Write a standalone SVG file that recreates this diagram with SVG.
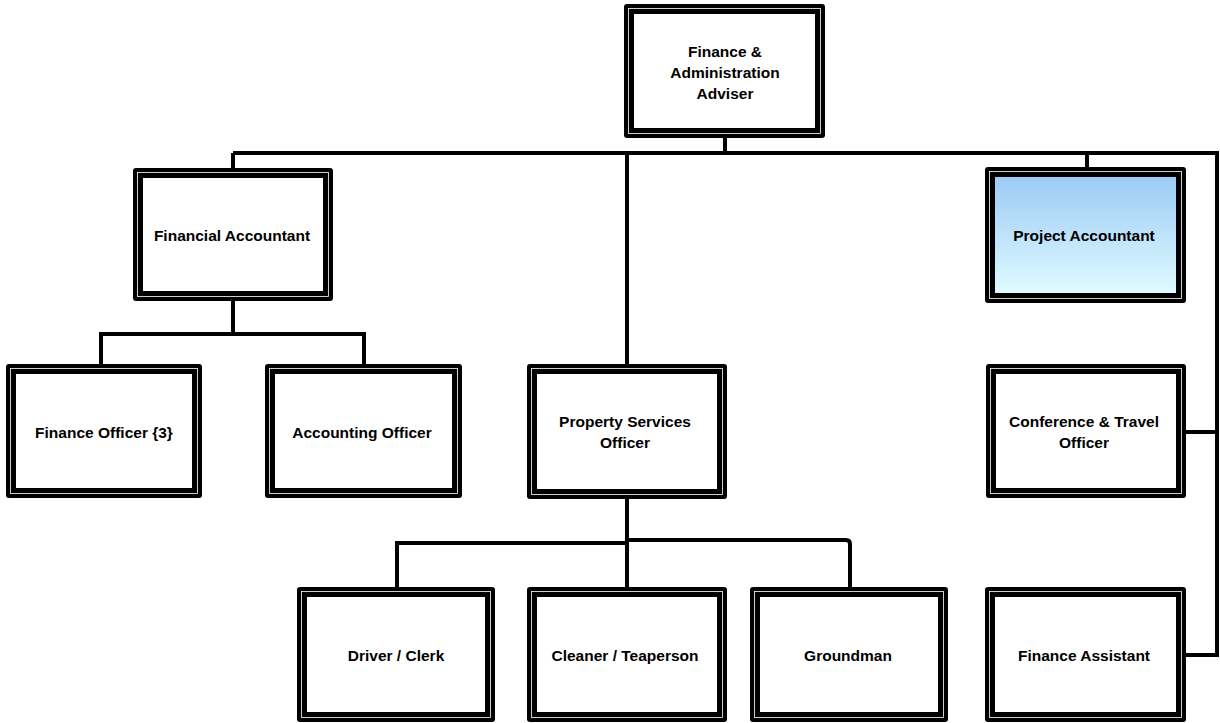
<svg xmlns="http://www.w3.org/2000/svg" width="1220" height="723" viewBox="0 0 1220 723">
<defs>
<linearGradient id="blue" x1="0" y1="0" x2="0" y2="1">
<stop offset="0" stop-color="#9ccbf6"/>
<stop offset="1" stop-color="#e0fbff"/>
</linearGradient>
</defs>
<style>
.outer{fill:#000}
.line{fill:none;stroke:#fff;stroke-width:0.8}
.inner{fill:#fff}
.conn{fill:none;stroke:#000;stroke-width:4}
text{font-family:"Liberation Sans",Arial,sans-serif;font-weight:bold;font-size:15.5px;fill:#000;text-anchor:middle;dominant-baseline:central}
</style>
<rect width="1220" height="723" fill="#fff"/>
<g id="connectors">
<path class="conn" d="M725 136V153"/>
<path class="conn" d="M233 153H1217V655H1184"/>
<path class="conn" d="M233 153V170"/>
<path class="conn" d="M1087 153V169"/>
<path class="conn" d="M627 153V366"/>
<path class="conn" d="M1217 432H1184"/>
<path class="conn" d="M233 298V334H101V366"/>
<path class="conn" d="M233 334H364V366"/>
<path class="conn" d="M627 497V589"/>
<path class="conn" d="M627 543H397V589"/>
<path class="conn" d="M627 540H846Q850 540 850 544V589"/>
</g>
<g id="n-adviser">
<rect class="outer" x="624" y="4" width="201" height="134" rx="3"/>
<rect class="line" x="628.5" y="8.5" width="192" height="125"/>
<rect class="inner" x="634" y="14" width="181" height="114"/>
<text x="725" y="51">Finance &amp;</text>
<text x="725" y="72">Administration</text>
<text x="725" y="93">Adviser</text>
</g>
<g id="n-financial">
<rect class="outer" x="133" y="168" width="200" height="133" rx="3"/>
<rect class="line" x="137.5" y="172.5" width="191" height="124"/>
<rect class="inner" x="143" y="178" width="180" height="113"/>
<text x="232" y="235">Financial Accountant</text>
</g>
<g id="n-project">
<rect class="outer" x="985" y="167" width="201" height="136" rx="3"/>
<rect class="line" x="989.5" y="171.5" width="192" height="127"/>
<rect x="995" y="177" width="181" height="116" fill="url(#blue)"/>
<text x="1084" y="235">Project Accountant</text>
</g>
<g id="n-finofficer">
<rect class="outer" x="6" y="364" width="196" height="134" rx="3"/>
<rect class="line" x="10.5" y="368.5" width="187" height="125"/>
<rect class="inner" x="16" y="374" width="176" height="114"/>
<text x="104" y="432">Finance Officer {3}</text>
</g>
<g id="n-accounting">
<rect class="outer" x="265" y="364" width="197" height="134" rx="3"/>
<rect class="line" x="269.5" y="368.5" width="188" height="125"/>
<rect class="inner" x="275" y="374" width="177" height="114"/>
<text x="362" y="432">Accounting Officer</text>
</g>
<g id="n-property">
<rect class="outer" x="527" y="364" width="200" height="135" rx="3"/>
<rect class="line" x="531.5" y="368.5" width="191" height="126"/>
<rect class="inner" x="537" y="374" width="180" height="115"/>
<text x="625" y="421">Property Services</text>
<text x="625" y="442">Officer</text>
</g>
<g id="n-conference">
<rect class="outer" x="986" y="364" width="200" height="134" rx="3"/>
<rect class="line" x="990.5" y="368.5" width="191" height="125"/>
<rect class="inner" x="996" y="374" width="180" height="114"/>
<text x="1084" y="421">Conference &amp; Travel</text>
<text x="1084" y="442">Officer</text>
</g>
<g id="n-driver">
<rect class="outer" x="297" y="587" width="198" height="135" rx="3"/>
<rect class="line" x="301.5" y="591.5" width="189" height="126"/>
<rect class="inner" x="307" y="597" width="178" height="115"/>
<text x="396" y="655">Driver / Clerk</text>
</g>
<g id="n-cleaner">
<rect class="outer" x="527" y="587" width="200" height="135" rx="3"/>
<rect class="line" x="531.5" y="591.5" width="191" height="126"/>
<rect class="inner" x="537" y="597" width="180" height="115"/>
<text x="625" y="655">Cleaner / Teaperson</text>
</g>
<g id="n-groundman">
<rect class="outer" x="750" y="587" width="198" height="135" rx="3"/>
<rect class="line" x="754.5" y="591.5" width="189" height="126"/>
<rect class="inner" x="760" y="597" width="178" height="115"/>
<text x="848" y="655">Groundman</text>
</g>
<g id="n-assistant">
<rect class="outer" x="985" y="587" width="201" height="135" rx="3"/>
<rect class="line" x="989.5" y="591.5" width="192" height="126"/>
<rect class="inner" x="995" y="597" width="181" height="115"/>
<text x="1084" y="655">Finance Assistant</text>
</g>
</svg>
